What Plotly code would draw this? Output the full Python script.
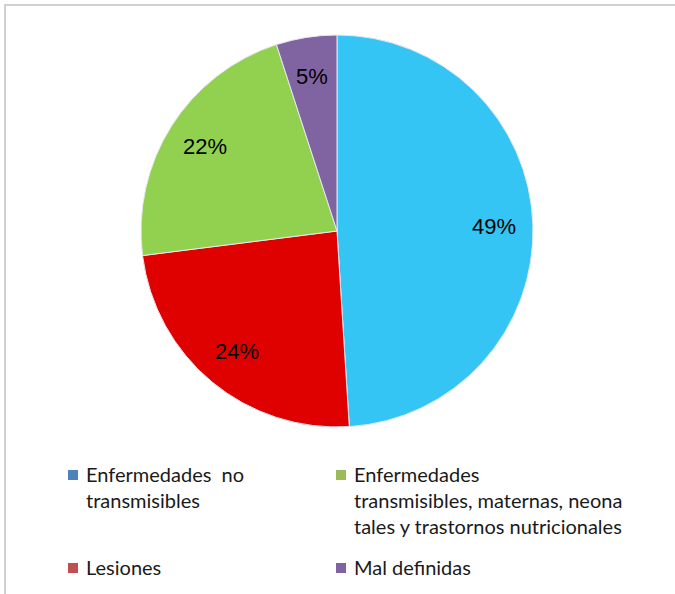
import math
import plotly.graph_objects as go

labels = ["Enfermedades  no transmisibles", "Lesiones",
          "Enfermedades transmisibles, maternas, neonatales y trastornos nutricionales",
          "Mal definidas"]
values = [49, 24, 22, 5]
slice_colors = ["#35C5F5", "#DF0000", "#92D050", "#8064A2"]
legend_colors = ["#4F81BD", "#C0504D", "#9BBB59", "#8064A2"]
legend_texts = ["Enfermedades  no<br>transmisibles", "Lesiones",
                "Enfermedades<br>transmisibles, maternas, neona<br>tales y trastornos nutricionales",
                "Mal definidas"]

W, H = 675, 594
CX, CY, R = 337, 231, 196

fig = go.Figure()
fig.add_trace(go.Pie(
    labels=labels, values=values, sort=False, direction="clockwise", rotation=0,
    marker=dict(colors=slice_colors, line=dict(color="#E8E8F0", width=1)),
    textinfo="none",
    domain=dict(x=[(CX - R) / W, (CX + R) / W], y=[1 - (CY + R) / H, 1 - (CY - R) / H]),
    showlegend=False, hoverinfo="label+percent",
))

annotations = []
# percentage labels placed along each slice's mid-angle (computed from the data)
total = sum(values)
cum = 0
for v in values:
    mid = (cum + v / 2) / total * 2 * math.pi
    cum += v
    rr = R * 0.80
    lx = CX + rr * math.sin(mid)
    ly = CY - rr * math.cos(mid)
    annotations.append(dict(x=lx / W, y=1 - ly / H, xref="paper", yref="paper",
                            xanchor="center", yanchor="middle", showarrow=False,
                            text=f"{round(v / total * 100)}%",
                            font=dict(family="Liberation Sans, Arial", size=22, color="black")))

# custom legend (positions in px)
legend_pos = [(68, 475), (68, 568), (336, 475), (336, 568)]
shapes = [
    dict(type="line", xref="paper", yref="paper", x0=4 / W, x1=1, y0=1 - 5 / H, y1=1 - 5 / H,
         line=dict(color="#D0D0D0", width=2)),
    dict(type="line", xref="paper", yref="paper", x0=5 / W, x1=5 / W, y0=0, y1=1 - 5 / H,
         line=dict(color="#D0D0D0", width=2)),
]
for (px, py), c, t in zip(legend_pos, legend_colors, legend_texts):
    shapes.append(dict(type="rect", xref="paper", yref="paper",
                       x0=px / W, x1=(px + 10) / W, y0=1 - (py + 5) / H, y1=1 - (py - 5) / H,
                       fillcolor=c, line=dict(width=0)))
    annotations.append(dict(x=(px + 16) / W, y=1 - (py - 15) / H, xref="paper", yref="paper",
                            xanchor="left", yanchor="top", align="left", showarrow=False,
                            text=t, font=dict(family="Lato, Open Sans", size=20, color="#1a1a1a")))

fig.update_layout(width=W, height=H, margin=dict(l=0, r=0, t=0, b=0),
                  paper_bgcolor="white", plot_bgcolor="white",
                  shapes=shapes, annotations=annotations)
fig.write_html("out.html", config={"displayModeBar": False},
               post_script="document.body.style.margin='0';")
